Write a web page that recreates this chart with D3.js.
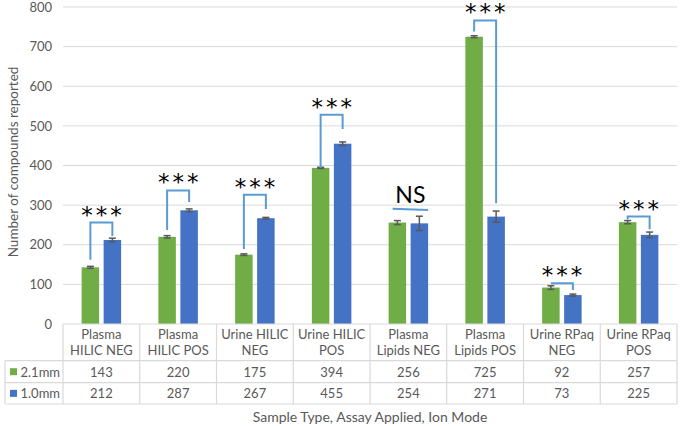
<!DOCTYPE html>
<html><head><meta charset="utf-8">
<script src="https://cdn.jsdelivr.net/npm/d3@7"></script>
<style>body{margin:0;background:#fff}svg{display:block}text{font-family:Lato,"Open Sans",sans-serif}</style>
</head><body>
<svg id="c" width="681" height="426"></svg>
<script>
const categories = [["Plasma","HILIC NEG"],["Plasma","HILIC POS"],["Urine HILIC","NEG"],["Urine HILIC","POS"],["Plasma","Lipids NEG"],["Plasma","Lipids POS"],["Urine RPaq","NEG"],["Urine RPaq","POS"]];
const seriesNames = ["2.1mm","1.0mm"];
const values21 = [143,220,175,394,256,725,92,257];
const values10 = [212,287,267,455,254,271,73,225];
const err21 = [2.5,3,2,1.5,5,2.5,4.5,4];
const err10 = [4.5,3.5,2,4.5,18,14,2.5,7];
const yTicks = [0,100,200,300,400,500,600,700,800];
const sigLabels = ["***","***","***","***","NS","***","***","***"];
const bracketTop = [256,337,326,528,291,766,103,271];
const bracketLeft = [162,237,189,394,291,738,103,264];
const bracketRight = [222,308,290,492,288,305,86,239];

const colors = ["#70AD47","#4472C4"];
const svg = d3.select("#c");
const L = 63, R = 677, T = 7, B = 324;
const idx = d3.range(categories.length);
const x0 = d3.scaleBand().domain(idx).range([L,R]).padding(0);
const x1 = d3.scaleBand().domain([0,1]).range([0,x0.bandwidth()]).paddingInner(0.2045).paddingOuter(0.847);
const y = d3.scaleLinear().domain([0,800]).range([B,T]);

// gridlines
svg.append("g").selectAll("line").data(yTicks.filter(d=>d>0)).join("line")
  .attr("x1",L).attr("x2",R).attr("y1",d=>y(d)).attr("y2",d=>y(d))
  .attr("stroke","#d9d9d9").attr("stroke-width",1);

// y axis
const yAxis = d3.axisLeft(y).tickValues(yTicks).tickSize(0).tickPadding(11);
const ga = svg.append("g").attr("transform",`translate(${L},0)`).call(yAxis);
ga.select(".domain").remove();
ga.selectAll("text").attr("fill","#595959").style("font-size","13px").style("font-family","Lato,sans-serif");

// y title
svg.append("text").attr("transform",`translate(13,162) rotate(-90)`)
  .attr("text-anchor","middle").attr("dominant-baseline","central")
  .attr("fill","#595959").style("font-size","13.5px").text("Number of compounds reported");

const series = [values21, values10];
const errs = [err21, err10];
series.forEach((vals,s)=>{
  svg.append("g").selectAll("rect").data(idx).join("rect")
    .attr("x",i=>x0(i)+x1(s)).attr("width",x1.bandwidth())
    .attr("y",i=>y(vals[i])).attr("height",i=>y(0)-y(vals[i]))
    .attr("fill",colors[s]);
  const eg = svg.append("g").attr("stroke","#595959").attr("stroke-width",1.5);
  idx.forEach(i=>{
    const cx = x0(i)+x1(s)+x1.bandwidth()/2;
    const y1v = y(vals[i]+errs[s][i]), y2v = y(vals[i]-errs[s][i]);
    eg.append("line").attr("x1",cx).attr("x2",cx).attr("y1",y1v).attr("y2",y2v);
    eg.append("line").attr("x1",cx-3.5).attr("x2",cx+3.5).attr("y1",y1v).attr("y2",y1v);
    eg.append("line").attr("x1",cx-3.5).attr("x2",cx+3.5).attr("y1",y2v).attr("y2",y2v);
  });
});

// brackets
const bg = svg.append("g");
idx.forEach(i=>{
  const lx = x0(i)+x1(0)+x1.bandwidth()/2;
  const rx = x0(i)+x1(1)+x1.bandwidth()/2;
  if (sigLabels[i]==="NS") {
    const a = x0(i)+x1(0)+4, b = x0(i)+x1(1)+x1.bandwidth();
    bg.append("line").attr("x1",a).attr("x2",b).attr("y1",y(bracketTop[i])).attr("y2",y(bracketRight[i]))
      .attr("stroke","#5B9BD5").attr("stroke-width",2);
    bg.append("text").attr("x",(a+b)/2).attr("y",y(bracketTop[i])-6)
      .attr("text-anchor","middle").attr("fill","#000").style("font-size","23px").text("NS");
  } else {
    bg.append("path").attr("d",`M${lx},${y(bracketLeft[i])}V${y(bracketTop[i])}H${rx}V${y(bracketRight[i])}`)
      .attr("fill","none").attr("stroke","#5B9BD5").attr("stroke-width",2);
    bg.append("text").attr("x",(lx+rx)/2 + 1.5).attr("y",y(bracketTop[i]))
      .attr("text-anchor","middle").attr("fill","#000")
      .style("font-family","'DejaVu Sans',sans-serif").style("font-size","23px")
      .style("letter-spacing","3px").text(sigLabels[i]);
  }
});

// table
const rowTops = [B, 360.7, 382.7, 404];
const tg = svg.append("g").attr("stroke","#d9d9d9").attr("stroke-width",1.2);
tg.append("line").attr("x1",L).attr("x2",R).attr("y1",rowTops[0]).attr("y2",rowTops[0]);
[1,2,3].forEach(k=>tg.append("line").attr("x1",5).attr("x2",R).attr("y1",rowTops[k]).attr("y2",rowTops[k]));
tg.append("line").attr("x1",5).attr("x2",5).attr("y1",rowTops[1]).attr("y2",rowTops[3]);
idx.concat([categories.length]).forEach(i=>{
  const xx = i<categories.length ? x0(i) : R;
  tg.append("line").attr("x1",xx).attr("x2",xx).attr("y1",rowTops[0]).attr("y2",rowTops[3]);
});
const txt = svg.append("g").attr("fill","#595959").style("font-size","13px").attr("text-anchor","middle");
idx.forEach(i=>{
  const cx = x0(i)+x0.bandwidth()/2;
  txt.append("text").attr("x",cx).attr("y",333.5).attr("dominant-baseline","central").text(categories[i][0]);
  txt.append("text").attr("x",cx).attr("y",350).attr("dominant-baseline","central").text(categories[i][1]);
  txt.append("text").attr("x",cx).attr("y",(rowTops[1]+rowTops[2])/2).attr("dominant-baseline","central").text(values21[i]);
  txt.append("text").attr("x",cx).attr("y",(rowTops[2]+rowTops[3])/2).attr("dominant-baseline","central").text(values10[i]);
});
seriesNames.forEach((n,s)=>{
  const cy = (rowTops[1+s]+rowTops[2+s])/2;
  svg.append("rect").attr("x",10).attr("y",cy-3.5).attr("width",7).attr("height",7).attr("fill",colors[s]);
  svg.append("text").attr("x",20.5).attr("y",cy).attr("dominant-baseline","central")
    .attr("fill","#595959").style("font-size","13px").text(n);
});
svg.append("text").attr("x",(L+R)/2).attr("y",416.5).attr("text-anchor","middle").attr("dominant-baseline","central")
  .attr("fill","#595959").style("font-size","14px").text("Sample Type, Assay Applied, Ion Mode");
</script>
</body></html>
